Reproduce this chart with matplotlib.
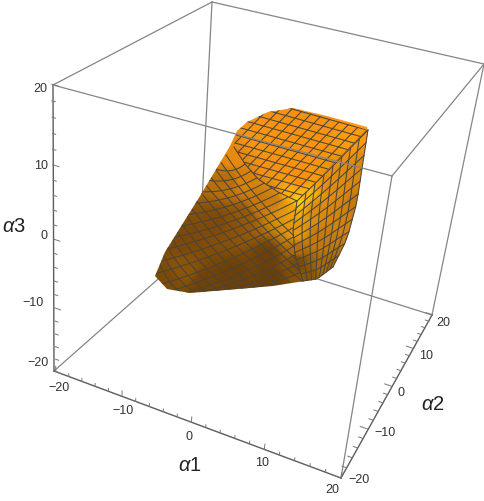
"""Mathematica-style 3D region plot redrawn on a flat axes through a fitted camera."""
import matplotlib
matplotlib.use("Agg")
import matplotlib.pyplot as plt
import numpy as np
from matplotlib.patches import Polygon

plt.rcParams["font.family"] = ["Liberation Sans", "DejaVu Sans"]
plt.rcParams["mathtext.fontset"] = "custom"
plt.rcParams["mathtext.it"] = "Liberation Sans:italic"
plt.rcParams["mathtext.rm"] = "Liberation Sans"

# box corners: alpha coordinates and where they sit on the picture
BOX_ALPHA = [(-20, -20, 20), (-20, 20, 20), (20, 20, 20), (20, -20, 20),
             (-20, -20, -20), (-20, 20, -20), (20, 20, -20), (20, -20, -20)]
BOX_PIXEL = [(53, 86), (212, 3), (484, 65), (392, 177),
             (54, 372), (200, 243), (432, 316), (341, 479)]

MAJOR_TICKS = [-20, -10, 0, 10, 20]
MINOR_TICKS = [-18, -16, -14, -12, -8, -6, -4, -2, 2, 4, 6, 8, 12, 14, 16, 18]

TICK_TEXT = ["\u221220", "\u221210", "0", "10", "20"]
A1_LABEL_XY = [(59, 388), (123, 411), (189, 437), (262, 463), (332, 490)]
A2_LABEL_XY = [(359, 480), (385, 433), (401, 393), (426, 356), (443, 323)]
A3_LABEL_XY = [(38, 363), (33, 303), (44, 236), (41, 166), (40, 89)]

# flat top face: near, right and back corners of its grid, plus its rounded outline
TOP_NEAR_CORNER = (297, 203)
TOP_RIGHT_CORNER = (367, 131)
TOP_BACK_CORNER = (292, 110)
TOP_OUTLINE = [(297, 202), (367, 131), (327, 117), (293, 109), (268, 113), (247, 123),
               (237, 132), (234, 148), (245, 165), (258, 180), (278, 193)]
TOP_SEAM = [(234, 148), (245, 165), (258, 180), (278, 193), (297, 202)]

RIGHT_TOP = [(297, 202), (330, 170), (368, 131)]
RIGHT_SEAM = [(297, 202), (293, 230), (295, 257), (303, 282)]
RIGHT_EDGE = [(368, 131), (363, 163), (357, 203), (347, 240), (333, 268)]
RIGHT_BOTTOM = [(303, 282), (317, 280), (333, 268)]

# left flank: two crossing families of lines, each running between two edge curves
RISING_START = [(240, 290), (190, 294), (167, 290), (155, 277), (165, 253), (190, 212), (216, 170)]
RISING_END = [(303, 282), (295, 257), (293, 230), (297, 203), (278, 193), (258, 180), (245, 165)]
FALLING_START = [(160, 265), (165, 253), (200, 197), (226, 156)]
FALLING_END = [(182, 294), (240, 290), (303, 282), (295, 257), (293, 236)]

OUTLINE = [(237, 132), (247, 123), (268, 113), (293, 109), (327, 117), (367, 128),
           (368, 133), (363, 163), (357, 203), (347, 240), (333, 268), (317, 280),
           (273, 287), (190, 294), (167, 290), (155, 277), (165, 253), (200, 197),
           (230, 147)]

# shading samples: x, y and colour
SHADE_XY = [(300, 150), (260, 140), (350, 135), (320, 120), (300, 180), (270, 165),
            (297, 203), (288, 195), (305, 195), (292, 208), (275, 202),
            (232, 158), (242, 182), (228, 182), (260, 203), (283, 207),
            (365, 172), (355, 205), (297, 233), (317, 240), (297, 250), (297, 262),
            (323, 270), (310, 277), (340, 215), (315, 210), (335, 190),
            (243, 217), (217, 223), (233, 223), (183, 240), (267, 257), (233, 277),
            (183, 270), (165, 280), (205, 285), (270, 280)]
SHADE_RGB = ["#fd9410", "#fb9612", "#ff9c10", "#f89212", "#ff9008", "#fd9210",
             "#ffd80a", "#ffb00c", "#ffb80f", "#f0a00e", "#c87c10",
             "#e88a10", "#d9820e", "#b56e0a", "#c67a0c", "#e09410",
             "#dd8810", "#c47a0c", "#e59a10", "#c27a10", "#b57008", "#7a4a06",
             "#a86a0a", "#8a5408", "#d08410", "#d98a10", "#e08c10",
             "#96580a", "#7f4a06", "#8a5208", "#7d4906", "#6e4005", "#6e4005",
             "#8a5508", "#7c4a06", "#704205", "#6a3e05"]

MESH_COLOR = "#4a443c"


def fit_camera(alpha, pixel):
    # projective camera from the eight box corners
    rows = []
    for (a, b, c), (x, y) in zip(alpha, pixel):
        rows.append([a, b, c, 1, 0, 0, 0, 0, -x * a, -x * b, -x * c, -x])
        rows.append([0, 0, 0, 0, a, b, c, 1, -y * a, -y * b, -y * c, -y])
    return np.linalg.svd(np.array(rows, dtype=float))[2][-1].reshape(3, 4)


def project(cam, points):
    pts = np.column_stack([np.array(points, dtype=float), np.ones(len(points))])
    out = pts @ cam.T
    return out[:, :2] / out[:, 2:]


def resample(curve, t):
    curve = np.array(curve, dtype=float)
    s = np.r_[0, np.cumsum(np.hypot(*np.diff(curve, axis=0).T))]
    s /= s[-1]
    return np.column_stack([np.interp(t, s, curve[:, 0]), np.interp(t, s, curve[:, 1])])


def coons(c0, c1, d0, d1, nu, nv, smooth=0):
    # c0, c1 run along u at v=0,1; d0, d1 run along v at u=0,1
    u = np.linspace(0, 1, nu + 1)
    v = np.linspace(0, 1, nv + 1)
    c0p, c1p = resample(c0, u), resample(c1, u)
    d0p, d1p = resample(d0, v), resample(d1, v)
    grid = np.zeros((nu + 1, nv + 1, 2))
    for i, uu in enumerate(u):
        for j, vv in enumerate(v):
            grid[i, j] = ((1 - vv) * c0p[i] + vv * c1p[i] + (1 - uu) * d0p[j] + uu * d1p[j]
                          - (1 - uu) * (1 - vv) * c0p[0] - uu * (1 - vv) * c0p[-1]
                          - (1 - uu) * vv * c1p[0] - uu * vv * c1p[-1])
    # relax the interior so boundary kinks do not run across the patch
    for _ in range(smooth):
        grid[1:-1, 1:-1] = 0.25 * (grid[:-2, 1:-1] + grid[2:, 1:-1] + grid[1:-1, :-2] + grid[1:-1, 2:])
    return grid


def draw_mesh(ax, grid, clip=None):
    for lines in (grid, grid.transpose(1, 0, 2)):
        for row in lines:
            line, = ax.plot(row[:, 0], row[:, 1], color=MESH_COLOR, lw=0.75, zorder=3)
            if clip is not None:
                line.set_clip_path(clip)


def draw_family(ax, start, end, n, bow, clip):
    # bowed lines from one edge curve to the other
    t = np.linspace(0, 1, n)
    a, b = resample(start, t), resample(end, t)
    w = np.linspace(0, 1, 15)[:, None]
    for p, q in zip(a, b):
        mid = 0.5 * (p + q) + np.array(bow, dtype=float)
        curve = (1 - w) ** 2 * p + 2 * w * (1 - w) * mid + w ** 2 * q
        line, = ax.plot(curve[:, 0], curve[:, 1], color=MESH_COLOR, lw=0.75, zorder=3)
        line.set_clip_path(clip)


def top_grid(n_cols, n_rows, rows_per_side):
    # cells along the near edge, then rows per side the other way, running past the back corner
    near, right, back = (np.array(p, dtype=float) for p in (TOP_NEAR_CORNER, TOP_RIGHT_CORNER, TOP_BACK_CORNER))
    t = np.linspace(0, 1, n_cols + 1)[:, None, None]
    s = (np.arange(n_rows + 1) / rows_per_side)[None, :, None]
    return near + t * (right - near) + s * (back - right)


def shade_image(x0, x1, y0, y1):
    xs, ys = np.meshgrid(np.arange(x0, x1), np.arange(y0, y1))
    sx = np.array([p[0] for p in SHADE_XY], dtype=float)
    sy = np.array([p[1] for p in SHADE_XY], dtype=float)
    rgb = np.array([matplotlib.colors.to_rgb(c) for c in SHADE_RGB])
    d2 = (xs[..., None] - sx) ** 2 + (ys[..., None] - sy) ** 2 + 20.0
    w = d2 ** -2.0
    return (w[..., None] * rgb).sum(axis=2) / w.sum(axis=2, keepdims=True)


def draw_ticks(ax, cam, axis_index, fixed, tick_dir, major_len, minor_len):
    for ticks, length in ((MAJOR_TICKS, major_len), (MINOR_TICKS, minor_len)):
        for t in ticks:
            start = list(fixed)
            start[axis_index] = t
            end = [s + length * d for s, d in zip(start, tick_dir)]
            seg = project(cam, [start, end])
            ax.plot(seg[:, 0], seg[:, 1], color="#777777", lw=0.7, zorder=2)


def main():
    fig = plt.figure(figsize=(4.85, 5.02), dpi=100)
    ax = fig.add_axes([0, 0, 1, 1])
    cam = fit_camera(BOX_ALPHA, BOX_PIXEL)
    px = np.array(BOX_PIXEL, dtype=float)

    # back and side edges go under the solid, E-F passes in front of it
    for i, j in [(0, 1), (1, 2), (2, 3), (1, 5), (4, 5), (5, 6), (2, 6), (3, 7)]:
        ax.plot(px[[i, j], 0], px[[i, j], 1], color="#858585", lw=0.9, zorder=1)
    for i, j in [(0, 4), (4, 7), (7, 6)]:
        ax.plot(px[[i, j], 0], px[[i, j], 1], color="#5c5c5c", lw=1.0, zorder=2)

    draw_ticks(ax, cam, 0, (0, -20, -20), (0, 0, 1), 0.85, 0.45)
    draw_ticks(ax, cam, 1, (20, 0, -20), (-1, 0, 0), 1.1, 0.6)
    draw_ticks(ax, cam, 2, (-20, -20, 0), (1, 0, 0), 0.85, 0.45)

    # shaded body, clipped to the outline
    img = shade_image(150, 372, 105, 298)
    im = ax.imshow(img, extent=(150, 372, 298, 105), aspect="auto", zorder=2.5,
                   interpolation="bilinear")
    body_clip = Polygon(OUTLINE, closed=True, transform=ax.transData)
    im.set_clip_path(body_clip)

    top_clip = Polygon(TOP_OUTLINE, closed=True, transform=ax.transData)
    draw_mesh(ax, top_grid(11, 12, 8), clip=top_clip)
    seam = np.array(TOP_SEAM, dtype=float)
    ax.plot(seam[:, 0], seam[:, 1], color=MESH_COLOR, lw=0.75, zorder=3)

    draw_mesh(ax, coons(RIGHT_TOP, [RIGHT_SEAM[-1], RIGHT_BOTTOM[1], RIGHT_EDGE[-1]],
                        RIGHT_SEAM, RIGHT_EDGE, 8, 11, smooth=2))
    draw_family(ax, RISING_START, RISING_END, 17, (2, 8), body_clip)
    draw_family(ax, FALLING_START, FALLING_END, 15, (-3, 6), body_clip)

    ax.plot(px[[0, 3], 0], px[[0, 3], 1], color="#858585", lw=0.9, zorder=4)

    for labels in (A1_LABEL_XY, A2_LABEL_XY, A3_LABEL_XY):
        for (x, y), text in zip(labels, TICK_TEXT):
            ax.text(x, y, text, fontsize=9, color="#333333", ha="center", va="center")
    ax.text(190, 466, r"$\alpha$1", fontsize=14.5, color="#222222", ha="center", va="center")
    ax.text(433, 405, r"$\alpha$2", fontsize=14.5, color="#222222", ha="center", va="center")
    ax.text(14, 227, r"$\alpha$3", fontsize=14.5, color="#222222", ha="center", va="center")

    ax.set_xlim(0, 485)
    ax.set_ylim(502, 0)
    ax.axis("off")
    fig.savefig("out.png", dpi=100)
    plt.close(fig)


if __name__ == "__main__":
    main()
